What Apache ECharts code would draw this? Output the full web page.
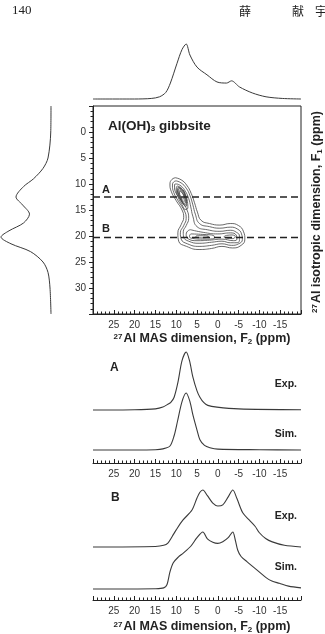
<!DOCTYPE html>
<html>
<head>
<meta charset="utf-8">
<script src="https://cdn.jsdelivr.net/npm/echarts@6/dist/echarts.min.js"></script>
<style>
  html, body { margin: 0; padding: 0; background: #fff; }
  #chart { width: 325px; height: 634px; }
</style>
</head>
<body>
<div id="chart"></div>
<script>
// 27Al 3QMAS of gibbsite: 2D contour + projections + slices A / B

// top projection (F2 ppm, intensity)
var topProj = [[30,0],[20,0],[16,0.01],[14,0.04],[12.5,0.12],[11.4,0.29],[9.8,0.65],[8.6,0.9],[7.6,1.0],[6.7,0.8],[5.0,0.58],[2.6,0.44],[0.2,0.31],[-2.1,0.29],[-3.3,0.33],[-5.2,0.22],[-8.3,0.11],[-11.6,0.04],[-15.5,0.01],[-20,0]];
// left projection (intensity, F1 ppm)
var leftProj = [[0,-5],[0.005,0],[0.06,5],[0.16,7],[0.35,9],[0.55,10.5],[0.7,12.5],[0.57,14],[0.43,15.8],[0.55,17.5],[0.84,19],[1.0,20.2],[0.8,21.5],[0.41,23],[0.16,25],[0.06,27],[0.02,30],[0,35]];

// slices (F2 ppm, intensity)
var expA = [[30,0],[20,0.005],[15,0.02],[13.2,0.05],[12,0.1],[11.3,0.13],[10.5,0.22],[9.6,0.47],[8.6,0.85],[7.6,1.0],[6.8,0.85],[6.0,0.57],[5.0,0.33],[4.3,0.22],[3.4,0.13],[2.4,0.08],[0.2,0.05],[-5,0.02],[-20,0.005]];
var simA = [[30,0],[20,0],[15,0.005],[13.2,0.02],[11.5,0.07],[10.5,0.25],[9.7,0.5],[8.6,0.85],[7.6,1.0],[6.7,0.85],[6.0,0.62],[5.0,0.35],[4.3,0.18],[3.2,0.08],[1.9,0.04],[0,0.015],[-10,0.005],[-20,0]];
var expB = [[30,0],[15,0.01],[13,0.03],[12,0.07],[11,0.18],[10,0.3],[8.4,0.47],[6.2,0.65],[5.0,0.86],[4.3,0.96],[3.6,1.0],[2.5,0.9],[1.2,0.77],[0,0.72],[-1.2,0.74],[-2.5,0.88],[-3.6,1.0],[-4.6,0.85],[-6,0.6],[-7.6,0.47],[-9,0.36],[-10,0.25],[-11.5,0.15],[-13.1,0.09],[-16,0.03],[-20,0]];
var simB = [[30,0],[15,0.005],[13,0.02],[12.2,0.08],[11.5,0.3],[10.7,0.46],[9.5,0.56],[8.3,0.63],[6.5,0.75],[5,0.9],[3.6,1.0],[2.5,0.88],[1.2,0.82],[0,0.8],[-1.2,0.83],[-2.5,0.9],[-3.6,1.0],[-4.2,0.86],[-4.8,0.68],[-5.6,0.57],[-7,0.48],[-9.3,0.34],[-11.6,0.2],[-13,0.14],[-14.8,0.1],[-17,0.05],[-20,0.02]];

// slice positions in F1 (ppm)
var sliceA = 12.5;
var sliceB = 20.3;

// contour levels, closed outlines in (F2, F1) ppm
var contours = [
  [[10.2,8.8],[8.8,9.2],[7.5,10.2],[6.4,11.8],[5.6,13.6],[4.9,15.4],[4.0,17.0],[2.0,17.6],[-0.5,17.9],[-3.0,17.6],[-5.0,18.0],[-6.2,19.2],[-6.5,20.6],[-5.6,21.8],[-3.5,22.3],[-1,22.0],[1.5,22.4],[4.5,22.6],[7.5,22.0],[9.4,21.0],[9.6,19.4],[8.8,17.8],[8.2,16.4],[8.6,15.0],[10.0,13.2],[11.2,11.4],[11.5,10.0],[11.0,9.1],[10.2,8.8]],
  [[10.0,9.4],[8.8,9.8],[7.6,10.8],[6.7,12.2],[6.0,14.0],[5.4,15.8],[4.4,17.6],[2.0,18.2],[-0.5,18.5],[-3.0,18.3],[-4.8,18.7],[-5.7,19.6],[-5.9,20.7],[-5.0,21.5],[-3.3,21.8],[-1,21.5],[1.5,21.8],[4.5,22.0],[7.3,21.5],[8.8,20.6],[9.0,19.4],[8.2,18.0],[7.6,16.6],[8.0,15.2],[9.4,13.4],[10.6,11.6],[10.9,10.2],[10.6,9.6],[10.0,9.4]],
  [[9.8,10.0],[8.8,10.4],[7.8,11.4],[7.0,12.8],[6.5,14.4],[6.0,16.2],[5.0,18.2],[2.5,18.8],[-0.5,19.1],[-3.0,18.9],[-4.5,19.3],[-5.2,20.0],[-5.2,20.9],[-4.4,21.3],[-3.0,21.3],[-1,21.0],[1.5,21.2],[4.5,21.4],[7.0,21.0],[8.2,20.2],[8.3,19.2],[7.6,18.0],[7.0,16.6],[7.4,15.0],[8.6,13.4],[10.0,11.8],[10.4,10.6],[10.3,10.0],[9.8,10.0]],
  [[9.6,10.4],[8.6,10.9],[7.8,12.0],[7.3,13.4],[7.2,14.6],[7.8,14.9],[8.6,14.0],[9.6,12.4],[10.0,11.2],[9.9,10.5],[9.6,10.4]],
  [[9.5,10.6],[8.5,11.1],[7.8,12.1],[7.5,13.4],[7.6,14.3],[8.1,14.1],[8.9,13.1],[9.6,11.9],[9.8,11.0],[9.5,10.6]],
  [[9.4,10.7],[8.5,11.2],[7.9,12.2],[7.6,13.4],[7.8,14.0],[8.4,13.5],[9.2,12.3],[9.7,11.3],[9.4,10.7]],
  [[9.3,10.9],[8.5,11.4],[7.9,12.4],[7.7,13.5],[8.2,13.7],[9.0,12.8],[9.5,11.7],[9.5,11.1],[9.3,10.9]],
  [[9.1,11.2],[8.5,11.7],[8.0,12.6],[7.9,13.3],[8.3,13.3],[9.0,12.5],[9.3,11.6],[9.1,11.2]],
  [[9.0,11.4],[8.4,11.9],[8.1,12.7],[8.5,12.9],[9.0,12.3],[9.2,11.7],[9.0,11.4]],
  [[6.5,18.8],[3.5,19.3],[0,19.6],[-3.0,19.4],[-4.4,19.8],[-4.6,20.6],[-3.8,20.9],[-1,20.6],[2,20.8],[5,20.9],[7.2,20.5],[7.6,19.7],[7.0,18.9],[6.5,18.8]],
  [[6.5,19.6],[3.6,19.7],[1.0,19.9],[0.8,20.4],[3.6,20.6],[6.5,20.4],[6.8,20.0],[6.5,19.6]],
  [[-2.0,19.9],[-3.4,19.8],[-4.2,20.1],[-3.6,20.5],[-2.0,20.4],[-1.5,20.15],[-2.0,19.9]],
  [[5,19.95],[3.5,19.95],[2.2,20.1],[3.5,20.35],[5,20.3],[5.3,20.1],[5,19.95]]
];

var ink = "#222";
var labelFont = "Liberation Sans";

function hiddenAxis(gridIndex, min, max, inverse) {
  return { type: "value", gridIndex: gridIndex, min: min, max: max, inverse: !!inverse, show: false };
}

function ppmAxis(gridIndex, offset) {
  return {
    type: "value",
    gridIndex: gridIndex,
    min: -20,
    max: 30,
    interval: 5,
    inverse: true,
    offset: offset,
    axisLine: { show: true, onZero: false, lineStyle: { color: ink, width: 1 } },
    axisTick: { show: true, inside: true, length: 4, lineStyle: { color: ink } },
    minorTick: { show: true, splitNumber: 5, length: 2.5, lineStyle: { color: ink } },
    axisLabel: { showMinLabel: false, showMaxLabel: false, margin: 6, color: "#333", fontSize: 10, fontFamily: labelFont },
    splitLine: { show: false }
  };
}

function trace(data, xi, yi, width) {
  return {
    type: "line",
    xAxisIndex: xi,
    yAxisIndex: yi,
    data: data,
    smooth: 0.3,
    symbol: "none",
    clip: false,
    silent: true,
    lineStyle: { color: "#3a3a3a", width: width || 1.1 }
  };
}

var series = [
  trace(topProj, 0, 0, 1),
  trace(leftProj, 2, 2, 1),
  trace(expA, 3, 3),
  trace(simA, 4, 4),
  trace(expB, 5, 5),
  trace(simB, 6, 6)
];

contours.forEach(function (c) {
  series.push({
    type: "line",
    xAxisIndex: 1,
    yAxisIndex: 1,
    data: c,
    smooth: 0.5,
    symbol: "none",
    silent: true,
    lineStyle: { color: "#444", width: 0.8 }
  });
});

[sliceA, sliceB].forEach(function (f1) {
  series.push({
    type: "line",
    xAxisIndex: 1,
    yAxisIndex: 1,
    data: [[30, f1], [-20, f1]],
    symbol: "none",
    silent: true,
    lineStyle: { color: ink, width: 1.6, type: [7, 4] }
  });
});

var bold = function (size) {
  return { fill: ink, font: "bold " + size + "px Liberation Sans" };
};

function label(text, x, y, size, align) {
  return {
    type: "text",
    x: x,
    y: y,
    silent: true,
    style: Object.assign(bold(size), { text: text, textAlign: align || "left", textVerticalAlign: "middle" })
  };
}

var axisTitleRich = {
  sup: { fontSize: 8, fontWeight: "bold", fontFamily: labelFont, fill: ink, verticalAlign: "top", padding: [0, 1, 5, 0] },
  sub: { fontSize: 8, fontWeight: "bold", fontFamily: labelFont, fill: ink, verticalAlign: "bottom", padding: [5, 0, 0, 0] }
};

function richTitle(text, x, y, rotation) {
  return {
    type: "text",
    x: x,
    y: y,
    rotation: rotation || 0,
    silent: true,
    style: {
      text: text,
      fill: ink,
      font: "bold 12.5px Liberation Sans",
      textAlign: "center",
      textVerticalAlign: "middle",
      rich: axisTitleRich
    }
  };
}

var chart = echarts.init(document.getElementById("chart"), null, { renderer: "canvas" });

var option = {
  backgroundColor: "#fff",
  animation: false,
  grid: [
    { left: 93, top: 44, width: 208, height: 55 },
    { left: 93, top: 106, width: 208, height: 208, show: true, borderColor: ink, borderWidth: 1, backgroundColor: "transparent" },
    { left: 0, top: 106, width: 51, height: 208 },
    { left: 93, top: 352, width: 208, height: 58 },
    { left: 93, top: 393, width: 208, height: 57 },
    { left: 93, top: 490, width: 208, height: 57 },
    { left: 93, top: 532, width: 208, height: 57 }
  ],
  xAxis: [
    hiddenAxis(0, -20, 30, true),
    ppmAxis(1, 0),
    hiddenAxis(2, 0, 1.02, true),
    hiddenAxis(3, -20, 30, true),
    ppmAxis(4, 13),
    hiddenAxis(5, -20, 30, true),
    ppmAxis(6, 11)
  ],
  yAxis: [
    hiddenAxis(0, 0, 1),
    {
      type: "value",
      gridIndex: 1,
      min: -5,
      max: 35,
      interval: 5,
      inverse: true,
      axisLine: { show: true, onZero: false, lineStyle: { color: ink } },
      axisTick: { show: true, inside: false, length: 4, lineStyle: { color: ink } },
      minorTick: { show: true, splitNumber: 5, length: 2.5, lineStyle: { color: ink } },
      axisLabel: { showMinLabel: false, showMaxLabel: false, margin: 7, color: "#333", fontSize: 10, fontFamily: labelFont },
      splitLine: { show: false }
    },
    hiddenAxis(2, -5, 35, true),
    hiddenAxis(3, 0, 1),
    hiddenAxis(4, 0, 1),
    hiddenAxis(5, 0, 1),
    hiddenAxis(6, 0, 1)
  ],
  graphic: [
    { type: "text", x: 12, y: 11, silent: true, style: { text: "140", fill: "#222", font: "13px Liberation Serif", textVerticalAlign: "middle" } },
    { type: "text", x: 239, y: 11, silent: true, style: { text: "薛", fill: "#222", font: "12px Noto Sans CJK SC", textVerticalAlign: "middle" } },
    { type: "text", x: 292, y: 11, silent: true, style: { text: "献", fill: "#222", font: "12px Noto Sans CJK SC", textVerticalAlign: "middle" } },
    { type: "text", x: 315, y: 11, silent: true, style: { text: "宇", fill: "#222", font: "12px Noto Sans CJK SC", textVerticalAlign: "middle" } },
    {
      type: "text", x: 108, y: 126, silent: true,
      style: {
        text: "Al(OH){s|3} gibbsite",
        fill: ink,
        font: "bold 13.5px Liberation Sans",
        textVerticalAlign: "middle",
        rich: { s: { fontSize: 8, fontWeight: "bold", fill: ink, verticalAlign: "bottom", padding: [6, 0, 0, 0] } }
      }
    },
    label("A", 102, 190, 11),
    label("B", 102, 229, 11),
    richTitle("{sup|27}Al MAS dimension, F{sub|2} (ppm)", 202, 339),
    richTitle("{sup|27}Al isotropic dimension, F{sub|1} (ppm)", 317, 212, Math.PI / 2),
    label("A", 110, 368, 12),
    label("Exp.", 297, 384, 10.5, "right"),
    label("Sim.", 297, 434, 10.5, "right"),
    label("B", 111, 498, 12),
    label("Exp.", 297, 516, 10.5, "right"),
    label("Sim.", 297, 567, 10.5, "right"),
    richTitle("{sup|27}Al MAS dimension, F{sub|2} (ppm)", 202, 627)
  ],
  series: series
};

chart.setOption(option);
</script>
</body>
</html>
